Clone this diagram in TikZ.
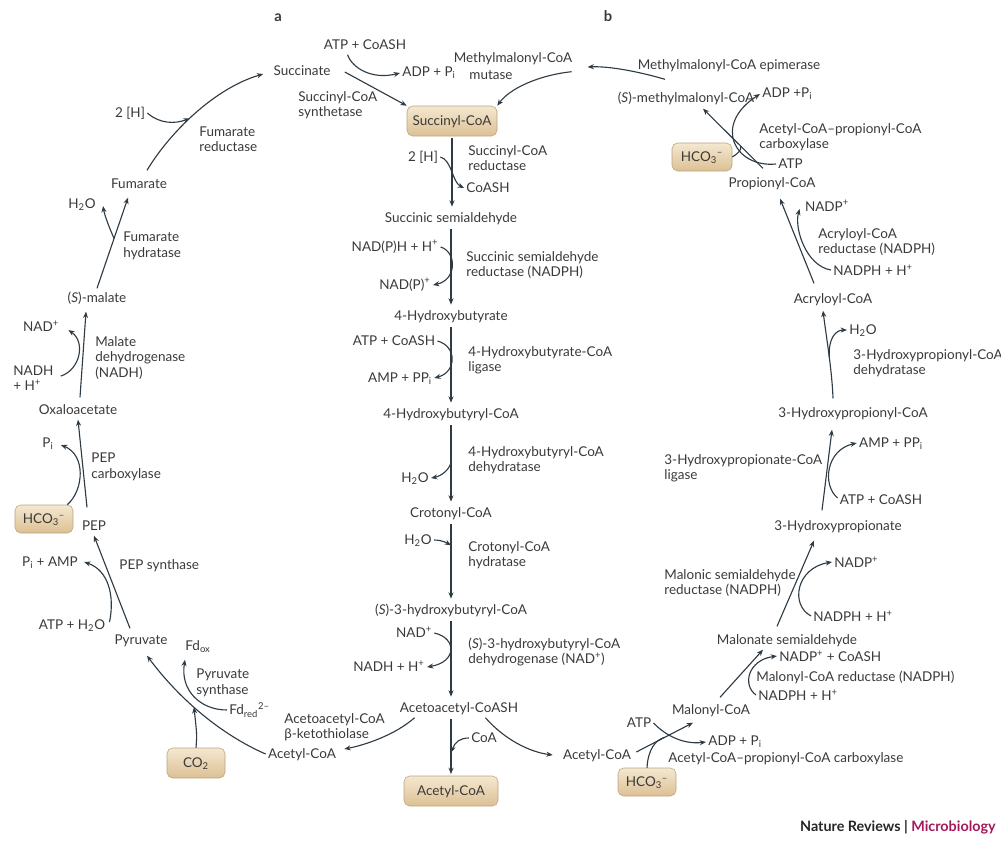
\documentclass[tikz,border=0pt]{standalone}
\usepackage{amsmath}
\usepackage{fontspec}
\setmainfont{Lato}
\usetikzlibrary{positioning,arrows.meta,calc}

\definecolor{txt}{HTML}{3A3A3A}
\definecolor{pathc}{HTML}{2E3B44}
\definecolor{boxtop}{HTML}{F4E8D0}
\definecolor{boxbot}{HTML}{DCC094}
\definecolor{boxln}{HTML}{B9A47F}
\definecolor{micro}{HTML}{A3195B}
\newcommand{\ion}[2]{\textsubscript{#1}\textsuperscript{#2}}

\begin{document}
\begin{tikzpicture}[
    x=0.25mm, y=-0.25mm,
    every node/.style={font=\fontsize{9.6}{11}\selectfont, text=txt, inner xsep=1.5pt, inner ysep=1.5pt, text height=1.6ex, text depth=0.45ex},
    lbl/.style={anchor=west, align=left, text height=, text depth=},
    pool/.style={rounded corners=4pt, draw=boxln, top color=boxtop, bottom color=boxbot, minimum height=7.5mm, inner sep=3pt},
    link/.style={draw=pathc, line width=0.8pt},
    arr/.style={link, -{Stealth[length=4.5pt,width=3.6pt]}},
    vert/.style={arr, shorten <=1pt, shorten >=1.2pt}
]
\useasboundingbox (0,0) rectangle (1001,843);

% panel letters
\node[font=\bfseries\fontsize{10.5}{12}\selectfont] (la) at (278,17) {a};
\node[font=\bfseries\fontsize{10.5}{12}\selectfont] (lb) at (608,17) {b};

% top
\node (succ) at (302,71) {Succinate};
\node (atpA) at (365,45) {ATP + CoASH};
\node[lbl] (adpA) at (400,73) {ADP + P\textsubscript{i}};
\node[lbl] (mutase) at (467,75) {mutase};
\node (mmcoa) at (513,58) {Methylmalonyl-CoA};
\node[lbl] (scs) at (296,105) {Succinyl-CoA\\synthetase};
\node[pool, minimum width=22.5mm] (scoa) at (452,121) {Succinyl-CoA};
\node (epi) at (729,65) {Methylmalonyl-CoA epimerase};
\node (smm) at (686,98) {(\textit{S})-methylmalonyl-CoA};

% centre column
\node (hA) at (423,157) {2 [H]};
\node[lbl] (scr) at (466,158) {Succinyl-CoA\\reductase};
\node (coashB) at (488,188) {CoASH};
\node (ssa) at (451,218) {Succinic semialdehyde};
\node (nadphB) at (395,247) {NAD(P)H + H\textsuperscript{+}};
\node[lbl] (ssar) at (464,265) {Succinic semialdehyde\\reductase (NADPH)};
\node (nadpB) at (405,285) {NAD(P)\textsuperscript{+}};
\node (hb) at (451,316) {4-Hydroxybutyrate};
\node (atpB) at (394,341) {ATP + CoASH};
\node[lbl] (hbl) at (466,360) {4-Hydroxybutyrate-CoA\\ligase};
\node (ampB) at (400,378) {AMP + PP\textsubscript{i}};
\node (hbcoa) at (451,414) {4-Hydroxybutyryl-CoA};
\node[lbl] (hbd) at (466,460) {4-Hydroxybutyryl-CoA\\dehydratase};
\node (wB) at (415,478) {H\textsubscript{2}O};
\node (cro) at (451,513) {Crotonyl-CoA};
\node (wC) at (418,540) {H\textsubscript{2}O};
\node[lbl] (croh) at (466,555) {Crotonyl-CoA\\hydratase};
\node (hbc) at (451,610) {(\textit{S})-3-hydroxybutyryl-CoA};
\node (nadB) at (414,633) {NAD\textsuperscript{+}};
\node[lbl] (hbdh) at (466,652) {(\textit{S})-3-hydroxybutyryl-CoA\\dehydrogenase (NAD\textsuperscript{+})};
\node (nadhB) at (389,667) {NADH + H\textsuperscript{+}};
\node (aac) at (459,708) {Acetoacetyl-CoASH};
\node (coaB) at (484,738) {CoA};
\node[pool, minimum width=23.5mm] (acoa) at (451,791) {Acetyl-CoA};
\node (acl) at (302,754) {Acetyl-CoA};
\node[lbl] (ket) at (282,727) {Acetoacetyl-CoA\\β-ketothiolase};
\node (acr) at (597,755) {Acetyl-CoA};

% cycle a, left side
\node[pool, minimum width=14.5mm] (co2) at (196,763) {CO\textsubscript{2}};
\node[lbl] (fdred) at (227,710) {Fd\ion{red}{2–}};
\node[lbl] (pys) at (194,683) {Pyruvate\\synthase};
\node (fdox) at (198,646) {Fd\textsubscript{ox}};
\node (pyr) at (141,640) {Pyruvate};
\node (atpw) at (72,625) {ATP + H\textsubscript{2}O};
\node[lbl] (peps) at (117,566) {PEP synthase};
\node (piamp) at (50,562) {P\textsubscript{i} + AMP};
\node (pep) at (94,526) {PEP};
\node[pool, minimum width=14.5mm, minimum height=7mm] (hcoA) at (44,519) {HCO\ion{3}{–}};
\node[lbl] (pepc) at (89,467) {PEP\\carboxylase};
\node (piA) at (48,443) {P\textsubscript{i}};
\node (oaa) at (78,410) {Oxaloacetate};
\node[lbl] (nadh) at (11,378) {NADH\\+ H\textsuperscript{+}};
\node[lbl] (mdh) at (93,358) {Malate\\dehydrogenase\\(NADH)};
\node (nad) at (41,327) {NAD\textsuperscript{+}};
\node (mal) at (97,298) {(\textit{S})-malate};
\node[lbl] (fumh) at (121,246) {Fumarate\\hydratase};
\node (wA) at (82,204) {H\textsubscript{2}O};
\node (fum) at (139,184) {Fumarate};
\node[lbl] (fumr) at (197,139) {Fumarate\\reductase};
\node (hB) at (130,113) {2 [H]};

% cycle b, right side
\node[pool, minimum width=15mm, minimum height=7mm] (hcoB) at (702,157) {HCO\ion{3}{–}};
\node[lbl] (adpC) at (760,94) {ADP +P\textsubscript{i}};
\node[lbl] (acccA) at (757,137) {Acetyl-CoA–propionyl-CoA\\carboxylase};
\node[lbl] (atpC) at (776,164) {ATP};
\node (prop) at (772,183) {Propionyl-CoA};
\node (nadpC) at (827,207) {NADP\textsuperscript{+}};
\node[lbl] (acrr) at (816,242) {Acryloyl-CoA\\reductase (NADPH)};
\node[lbl] (nadphC) at (831,270) {NADPH + H\textsuperscript{+}};
\node (acry) at (833,299) {Acryloyl-CoA};
\node (wD) at (863,330) {H\textsubscript{2}O};
\node[lbl] (hpd) at (851,363) {3-Hydroxypropionyl-CoA\\dehydratase};
\node (hpcoa) at (853,413) {3-Hydroxypropionyl-CoA};
\node (ampD) at (891,443) {AMP + PP\textsubscript{i}};
\node[lbl] (hpl) at (662,468) {3-Hydroxypropionate-CoA\\ligase};
\node (atpD) at (881,500) {ATP + CoASH};
\node (hp) at (838,526) {3-Hydroxypropionate};
\node[lbl] (nadpE) at (832,562) {NADP\textsuperscript{+}};
\node[lbl] (msr) at (662,583) {Malonic semialdehyde\\reductase (NADPH)};
\node[lbl] (nadphE) at (811,616) {NADPH + H\textsuperscript{+}};
\node (msa) at (787,640) {Malonate semialdehyde};
\node[lbl] (nadpF) at (777,656) {NADP\textsuperscript{+} + CoASH};
\node[lbl] (mcr) at (754,677) {Malonyl-CoA reductase (NADPH)};
\node[lbl] (nadphF) at (756,695) {NADPH + H\textsuperscript{+}};
\node (mcoa) at (711,710) {Malonyl-CoA};
\node (atpF) at (639,723) {ATP};
\node[lbl] (adpF) at (706,742) {ADP + P\textsubscript{i}};
\node[lbl] (acccB) at (666,759) {Acetyl-CoA–propionyl-CoA carboxylase};
\node[pool, minimum width=14.5mm, minimum height=7mm] (hcoC) at (647,782) {HCO\ion{3}{–}};

\node[anchor=east, font=\bfseries\fontsize{10.2}{12}\selectfont, text=black!85] (nrm) at (998,827) {Nature Reviews | \textcolor{micro}{Microbiology}};

% main steps, cycle a
\draw[arr] (acl.west) .. controls (222,735) and (180,700) .. coordinate[pos=.57] (psA) ($(pyr.south)+(6,6)$);
\draw[arr] ($(pyr.north)+(-11,-2)$) -- (pep.south);
\draw[arr] ($(pep.north)+(-7,-9)$) -- (oaa.south);
\draw[arr] ($(oaa.north)+(2,-3)$) -- ($(mal.south)+(-11,4)$);
\draw[arr] (mal.north) -- coordinate[pos=.55] (fhA) ($(fum.south)+(-11,4)$);
\draw[arr] ($(fum.north)+(8,-4)$) .. controls (170,132) and (215,88) .. coordinate[pos=.45] (frA) ($(succ.west)+(-8,3)$);
\draw[arr] ($(succ.east)+(12,1)$) -- (scoa.north west);
\draw[arr] ($(mmcoa.south east)+(-3,4)$) .. controls (540,75) and (510,88) .. (scoa.north east);
\draw[arr] ($(smm.north)+(-21,-9)$) .. controls (640,72) and (610,66) .. ($(mmcoa.east)+(13,9)$);

% main steps, cycle b
\draw[arr] ($(prop.north)+(-9,-5)$) -- coordinate[pos=.37] (pcA) ($(smm.south)+(17,1)$);
\draw[arr] ($(acry.north)+(-19,-6)$) -- ($(prop.south)+(8,6)$);
\draw[arr] ($(hpcoa.north)+(-20,-5)$) .. controls (832,370) and (826,335) .. coordinate[pos=.45] (hdA) ($(acry.south)+(-10,2)$);
\draw[arr] ($(hp.north)+(-16,-6)$) -- ($(hpcoa.south)+(-21,7)$);
\draw[arr] ($(msa.north)+(-10,-4)$) -- ($(hp.south)+(-24,5)$);
\draw[arr] ($(mcoa.north)+(9,-3)$) -- ($(msa.south)+(-24,0)$);
\draw[arr] ($(acr.east)+(3,-3)$) -- coordinate[pos=.5] (acA) ($(mcoa.south)+(-18,3)$);

% centre column
\draw[vert] (scoa.south) -- (scoa.south |- ssa.north);
\draw[vert] (ssa.south) -- (hb.north);
\draw[vert] (hb.south) -- (hbcoa.north);
\draw[vert] (hbcoa.south) -- coordinate[pos=.47] (hbA) (cro.north);
\draw[vert] (cro.south) -- coordinate[pos=.29] (crA) (hbc.north);
\draw[vert] (hbc.south) -- (hbc.south |- aac.north);
\draw[vert] (acoa.north |- aac.south) -- coordinate[pos=.6] (aacA) (acoa.north);
\draw[arr] ($(aac.south west)+(17,0)$) .. controls (395,735) and (365,745) .. ($(acl.east)+(6,-5)$);
\draw[arr] ($(aac.south east)+(-35,0)$) .. controls (505,740) and (530,752) .. ($(acr.west)+(-8,0)$);

% cosubstrates, cycle a
\draw[arr] (hB.east) .. controls (160,124) and (175,124) .. (frA);
\draw[arr] (fhA) .. controls (106,220) and (104,212) .. ($(wA.east)+(5,2)$);
\draw[arr] ($(nadh.north east)+(5,13)$) .. controls (80,370) and (86,342) .. ($(nad.east)+(7,3)$);
\draw[arr] ($(hcoA.north east)+(-6,0)$) .. controls (84,490) and (86,455) .. ($(piA.east)+(5,2)$);
\draw[arr] ($(atpw.east)+(2,-3)$) .. controls (115,595) and (108,570) .. ($(piamp.east)+(4,0)$);
\draw[arr] (fdred.west) .. controls (200,710) and (180,690) .. ($(fdox.south)+(-13,4)$);
\draw[arr] (co2.north) .. controls (197,735) .. (psA);
\draw[arr] ($(atpA.south west)+(26,0)$) .. controls (352,68) and (372,80) .. (adpA.west);

% cosubstrates, centre column
\draw[arr] (hA.east) .. controls (452,160) and (452,182) .. (coashB.west);
\draw[arr] (nadphB.east) .. controls (457,252) and (457,280) .. (nadpB.east);
\draw[arr] (atpB.east) .. controls (457,346) and (457,372) .. (ampB.east);
\draw[arr] (hbA) .. controls (451,468) and (442,476) .. (wB.east);
\draw[arr] (wC.east) .. controls (442,540) and (447,543) .. (crA);
\draw[arr] (nadB.east) .. controls (457,638) and (457,662) .. (nadhB.east);
\draw[arr] (coaB.west) .. controls (460,738) and (455,742) .. (aacA);

% cosubstrates, cycle b
\draw[arr] (atpC.west) .. controls (735,168) and (712,125) .. (adpC.west);
\draw[link] (hcoB.east) .. controls (740,152) and (741,150) .. (pcA);
\draw[arr] (nadphC.west) .. controls (806,266) and (794,228) .. ($(nadpC.west)+(-3,2)$);
\draw[arr] (hdA) .. controls (828,338) and (836,330) .. (wD.west);
\draw[arr] ($(atpD.west)+(0,-2)$) .. controls (822,485) and (826,450) .. (ampD.west);
\draw[arr] (nadphE.west) .. controls (790,605) and (796,568) .. (nadpE.west);
\draw[arr] (nadphF.west) .. controls (742,685) and (748,660) .. (nadpF.west);
\draw[arr] (atpF.east) .. controls (662,732) and (680,745) .. (adpF.west);
\draw[link] (hcoC.north) .. controls (648,750) and (655,740) .. (acA);
\end{tikzpicture}
\end{document}
